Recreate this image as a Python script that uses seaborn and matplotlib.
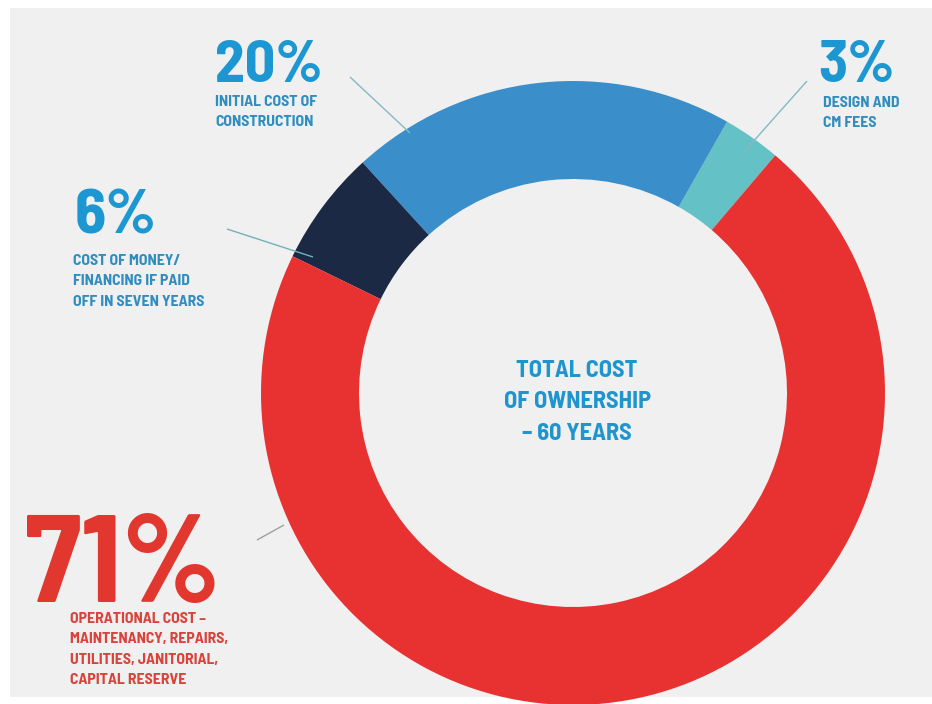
import matplotlib
matplotlib.use("Agg")
import matplotlib.pyplot as plt
import seaborn as sns
from matplotlib.patches import Rectangle

# ---- data ----
categories = ["Design and CM fees", "Initial cost of construction",
              "Cost of money / financing", "Operational cost"]
shares = [3, 20, 6, 71]
pct_labels = ["3%", "20%", "6%", "71%"]
desc_labels = [
    "DESIGN AND\nCM FEES",
    "INITIAL COST OF\nCONSTRUCTION",
    "COST OF MONEY/\nFINANCING IF PAID\nOFF IN SEVEN YEARS",
    "OPERATIONAL COST –\nMAINTENANCY, REPAIRS,\nUTILITIES, JANITORIAL,\nCAPITAL RESERVE",
]
center_title = "TOTAL COST\nOF OWNERSHIP\n– 60 YEARS"

sns.set_theme(style="white")
COND = ["Barlow Condensed", "DejaVu Sans"]
SEMI = ["Barlow Semi Condensed", "Barlow Condensed", "DejaVu Sans"]
plt.rcParams["font.family"] = SEMI

palette = sns.color_palette(["#64c2c6", "#3a8fca", "#1b2944", "#e83232"])

W, H = 932, 704
fig = plt.figure(figsize=(W / 100, H / 100), dpi=100, facecolor="white")
ax = fig.add_axes([0, 0, 1, 1])

def Y(yp):
    return H - yp

# gray panel
ax.add_patch(Rectangle((10, Y(697)), W - 10, 697 - 8, facecolor="#f0f0f0",
                       edgecolor="none", zorder=0))

cx, cy, R = 573, 393, 312
ax.pie(shares, colors=palette, startangle=49.6, counterclock=True,
       radius=R, center=(cx, Y(cy)),
       wedgeprops=dict(width=98, edgecolor="none", linewidth=0))

ax.set_xlim(0, W)
ax.set_ylim(0, H)
ax.set_aspect("equal")
ax.axis("off")

blue_big = "#1c97d2"
blue_small = "#2f8dbf"
red_big = "#e2372f"
red_small = "#d9433c"

layout = {
    "3%": dict(x=818, yb=82, fs=43, dx=823, dy=107, color=blue_big, dcolor=blue_small),
    "20%": dict(x=215, yb=82, fs=43, dx=215, dy=106, color=blue_big, dcolor=blue_small),
    "6%": dict(x=75, yb=233, fs=46, dx=73, dy=265, color=blue_big, dcolor=blue_small),
    "71%": dict(x=25, yb=602, fs=90, dx=70, dy=623, color=red_big, dcolor=red_small),
}
line_gap = 20.3
for pct, desc in zip(pct_labels, desc_labels):
    L = layout[pct]
    ax.text(L["x"], Y(L["yb"]), pct, fontsize=L["fs"], fontweight="bold",
            color=L["color"], ha="left", va="baseline", family=SEMI)
    for i, line in enumerate(desc.split("\n")):
        ax.text(L["dx"], Y(L["dy"] + i * line_gap), line, fontsize=11.3,
                fontweight="bold", color=L["dcolor"], ha="left", va="baseline",
                family=SEMI)

# leader lines
leaders = [((807, 81), (743, 153), "#86b9c2"),
           ((350, 77), (410, 133), "#86b9c2"),
           ((227, 229), (313, 257), "#6fb2bd"),
           ((257, 540), (284, 525), "#a49ca6")]
for (x1, y1), (x2, y2), c in leaders:
    ax.plot([x1, x2], [Y(y1), Y(y2)], color=c, lw=1.0, zorder=5,
            solid_capstyle="butt")

# center title
for i, line in enumerate(center_title.split("\n")):
    ax.text(577, Y(377 + i * 31.5), line, fontsize=17.5, fontweight="bold",
            color="#1f95cf", ha="center", va="baseline", family=SEMI)

fig.savefig("out.png", dpi=100, facecolor="white")
